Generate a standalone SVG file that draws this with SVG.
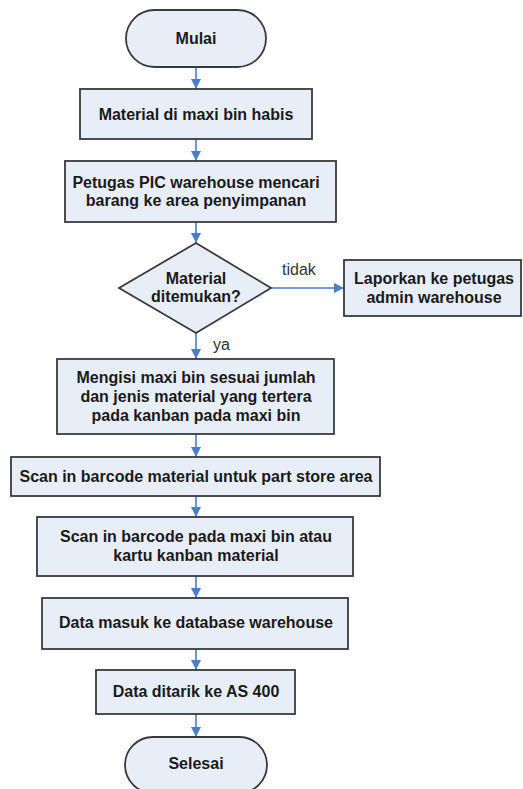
<svg xmlns="http://www.w3.org/2000/svg" width="523" height="789" viewBox="0 0 523 789">
  <defs>
    <marker id="arrow" viewBox="0 0 10 10" refX="10" refY="5" markerWidth="10" markerHeight="10" markerUnits="userSpaceOnUse" orient="auto">
      <path d="M0,0 L10,5 L0,10 Z" fill="#4a7ec6"/>
    </marker>
  </defs>
  <style>
    .shape { fill: #e8eef8; stroke: #3a3a3a; stroke-width: 1.8; }
    .label { font-family: "Liberation Sans", Arial, sans-serif; font-size: 16px; font-weight: bold; fill: #1a1a1a; text-anchor: middle; }
    .note { font-family: "Liberation Sans", Arial, sans-serif; font-size: 16px; fill: #333; }
    .link { stroke: #4a7ec6; stroke-width: 1.6; fill: none; marker-end: url(#arrow); }
  </style>
  <rect width="523" height="789" fill="#ffffff"/>

  <g id="connectors">
    <line class="link" x1="196" y1="67" x2="196" y2="89"/>
    <line class="link" x1="196" y1="139" x2="196" y2="161"/>
    <line class="link" x1="196" y1="222" x2="196" y2="243"/>
    <line class="link" x1="271" y1="288" x2="344" y2="288"/>
    <line class="link" x1="196" y1="333" x2="196" y2="359"/>
    <line class="link" x1="196" y1="434" x2="196" y2="457"/>
    <line class="link" x1="196" y1="496" x2="196" y2="517"/>
    <line class="link" x1="196" y1="576" x2="196" y2="598"/>
    <line class="link" x1="196" y1="649" x2="196" y2="670"/>
    <line class="link" x1="196" y1="714" x2="196" y2="737"/>
    <text class="note" x="282" y="275">tidak</text>
    <text class="note" x="213" y="350">ya</text>
  </g>

  <g id="mulai">
    <rect class="shape" x="126" y="10" width="140" height="57" rx="28.5" ry="28.5"/>
    <text class="label" x="196" y="44">Mulai</text>
  </g>

  <g id="maxi-bin-habis">
    <rect class="shape" x="80" y="89" width="232" height="50"/>
    <text class="label" x="196" y="120">Material di maxi bin habis</text>
  </g>

  <g id="mencari-barang">
    <rect class="shape" x="65" y="161" width="271" height="61"/>
    <text class="label" x="196" y="188">Petugas PIC warehouse mencari</text>
    <text class="label" x="196" y="206">barang ke area penyimpanan</text>
  </g>

  <g id="ditemukan">
    <polygon class="shape" points="196,243 271,288 196,333 119,288"/>
    <text class="label" x="196" y="284">Material</text>
    <text class="label" x="196" y="302">ditemukan?</text>
  </g>

  <g id="laporkan">
    <rect class="shape" x="344" y="260" width="177" height="56"/>
    <text class="label" x="434" y="284">Laporkan ke petugas</text>
    <text class="label" x="434" y="303">admin warehouse</text>
  </g>

  <g id="mengisi">
    <rect class="shape" x="57" y="359" width="277" height="75"/>
    <text class="label" x="196" y="383">Mengisi maxi bin sesuai jumlah</text>
    <text class="label" x="196" y="402">dan jenis material yang tertera</text>
    <text class="label" x="196" y="421">pada kanban pada maxi bin</text>
  </g>

  <g id="scan-material">
    <rect class="shape" x="11" y="457" width="369" height="39"/>
    <text class="label" x="196" y="482">Scan in barcode material untuk part store area</text>
  </g>

  <g id="scan-kanban">
    <rect class="shape" x="37" y="517" width="316" height="59"/>
    <text class="label" x="196" y="542">Scan in barcode pada maxi bin atau</text>
    <text class="label" x="196" y="561">kartu kanban material</text>
  </g>

  <g id="data-masuk">
    <rect class="shape" x="42" y="598" width="306" height="51"/>
    <text class="label" x="196" y="628">Data masuk ke database warehouse</text>
  </g>

  <g id="data-ditarik">
    <rect class="shape" x="96" y="670" width="199" height="44"/>
    <text class="label" x="196" y="697">Data ditarik ke AS 400</text>
  </g>

  <g id="selesai">
    <rect class="shape" x="125" y="737" width="142" height="56" rx="28" ry="28"/>
    <text class="label" x="196" y="769">Selesai</text>
  </g>
</svg>
